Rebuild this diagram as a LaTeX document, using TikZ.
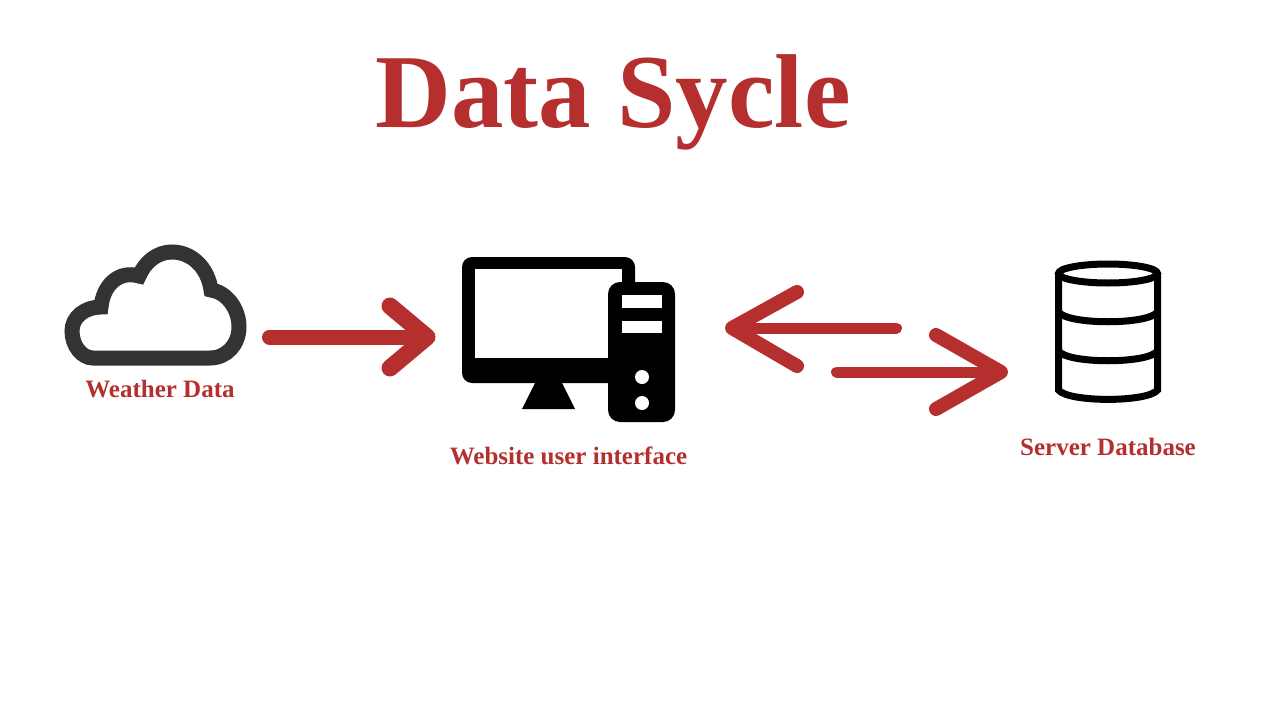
\documentclass[tikz,border=0pt]{standalone}
\usepackage{fontspec}
\setmainfont{Liberation Serif}
\usetikzlibrary{positioning}
\definecolor{cycleRed}{HTML}{B52F2F}
\definecolor{cloudGrey}{HTML}{333333}

\begin{document}
\begin{tikzpicture}[
    x=1pt, y=-1pt,
    titlenode/.style={text=cycleRed, font=\bfseries\fontsize{105}{105}\selectfont, inner sep=0pt},
    labelnode/.style={text=cycleRed, font=\bfseries\fontsize{25}{25}\selectfont, inner sep=0pt},
    iconbox/.style={inner sep=0pt, minimum width=#1},
    flowline/.style={draw=cycleRed, line width=#1, line cap=round, line join=round},
    iconline/.style={draw=black, line width=7pt}
    ]
        \useasboundingbox (0,0) rectangle (1280,720);

        %Nodes
        \node[titlenode, anchor=base]
            (mTitle)    at (613,127)    {Data Sycle};
        \node[iconbox=181pt, minimum height=120pt]
            (mCloud)    at (155.5,305)  {};
        \node[iconbox=213pt, minimum height=165pt]
            (mPC)       at (568.5,339.5) {};
        \node[iconbox=106pt, minimum height=142pt]
            (mDB)       at (1108,332)   {};
        \node[labelnode, xshift=4.5pt]
            (mCloudL)   [below=15pt of mCloud]  {Weather Data};
        \node[labelnode]
            (mPCL)      [below=24pt of mPC]     {Website user interface};
        \node[labelnode]
            (mDBL)      [below=35pt of mDB]     {Server Database};

        %Cloud
        \draw[draw=cloudGrey, line width=15pt, miter limit=3]
            (93,358) -- (210,358)
            .. controls (227,358) and (239,344) .. (239,327)
            .. controls (239,308) and (226,292) .. (211,290)
            .. controls (208,268) and (192,252) .. (172,252)
            .. controls (157,252) and (145,262) .. (139,276)
            .. controls (118,270) and (103,286) .. (101,307)
            .. controls (85,307) and (72,317) .. (72,331)
            .. controls (72,346) and (82,358) .. (93,358) -- cycle;

        %Computer
        \fill[black, rounded corners=10pt] (462,257) rectangle (635,383);
        \fill[white] (475,269) rectangle (622,358);
        \fill[black] (535,383) -- (562,383) -- (575,409) -- (522,409) -- cycle;
        \fill[black, rounded corners=12pt] (608,282) rectangle (675,422);
        \fill[white] (622,295) rectangle (662,308);
        \fill[white] (622,321) rectangle (662,333);
        \fill[white] (642,377) circle (7pt);
        \fill[white] (642,403) circle (7pt);

        %Database
        \draw[iconline] (1108,273.5) ellipse (49.5pt and 9.5pt);
        \draw[iconline] (1058.5,273.5) -- (1058.5,390)
            .. controls (1068,402.5) and (1148,402.5) .. (1157.5,390) -- (1157.5,273.5);
        \draw[iconline] (1058.5,312) .. controls (1068,325) and (1148,325) .. (1157.5,312);
        \draw[iconline] (1058.5,351) .. controls (1068,364) and (1148,364) .. (1157.5,351);

        %Lines
        \coordinate (aStart) at (269.5,337);
        \coordinate (aTip)   at (427,337);
        \coordinate (aUp)    at (390,306);
        \coordinate (aDown)  at (390,368);
        \draw[flowline=15pt] (aStart) -- (aTip);
        \draw[flowline=17pt] (aUp) -- (aTip) -- (aDown);

        \coordinate (bStart) at (896.5,328);
        \coordinate (bTip)   at (732,328);
        \coordinate (bUp)    at (797,292);
        \coordinate (bDown)  at (797,366);
        \draw[flowline=11pt] (bStart) -- (bTip);
        \draw[flowline=14pt] (bUp) -- (bTip) -- (bDown);

        \coordinate (cStart) at (836.5,372);
        \coordinate (cTip)   at (1001,372);
        \coordinate (cUp)    at (936,335);
        \coordinate (cDown)  at (936,409);
        \draw[flowline=11pt] (cStart) -- (cTip);
        \draw[flowline=14pt] (cUp) -- (cTip) -- (cDown);
    \end{tikzpicture}
\end{document}
